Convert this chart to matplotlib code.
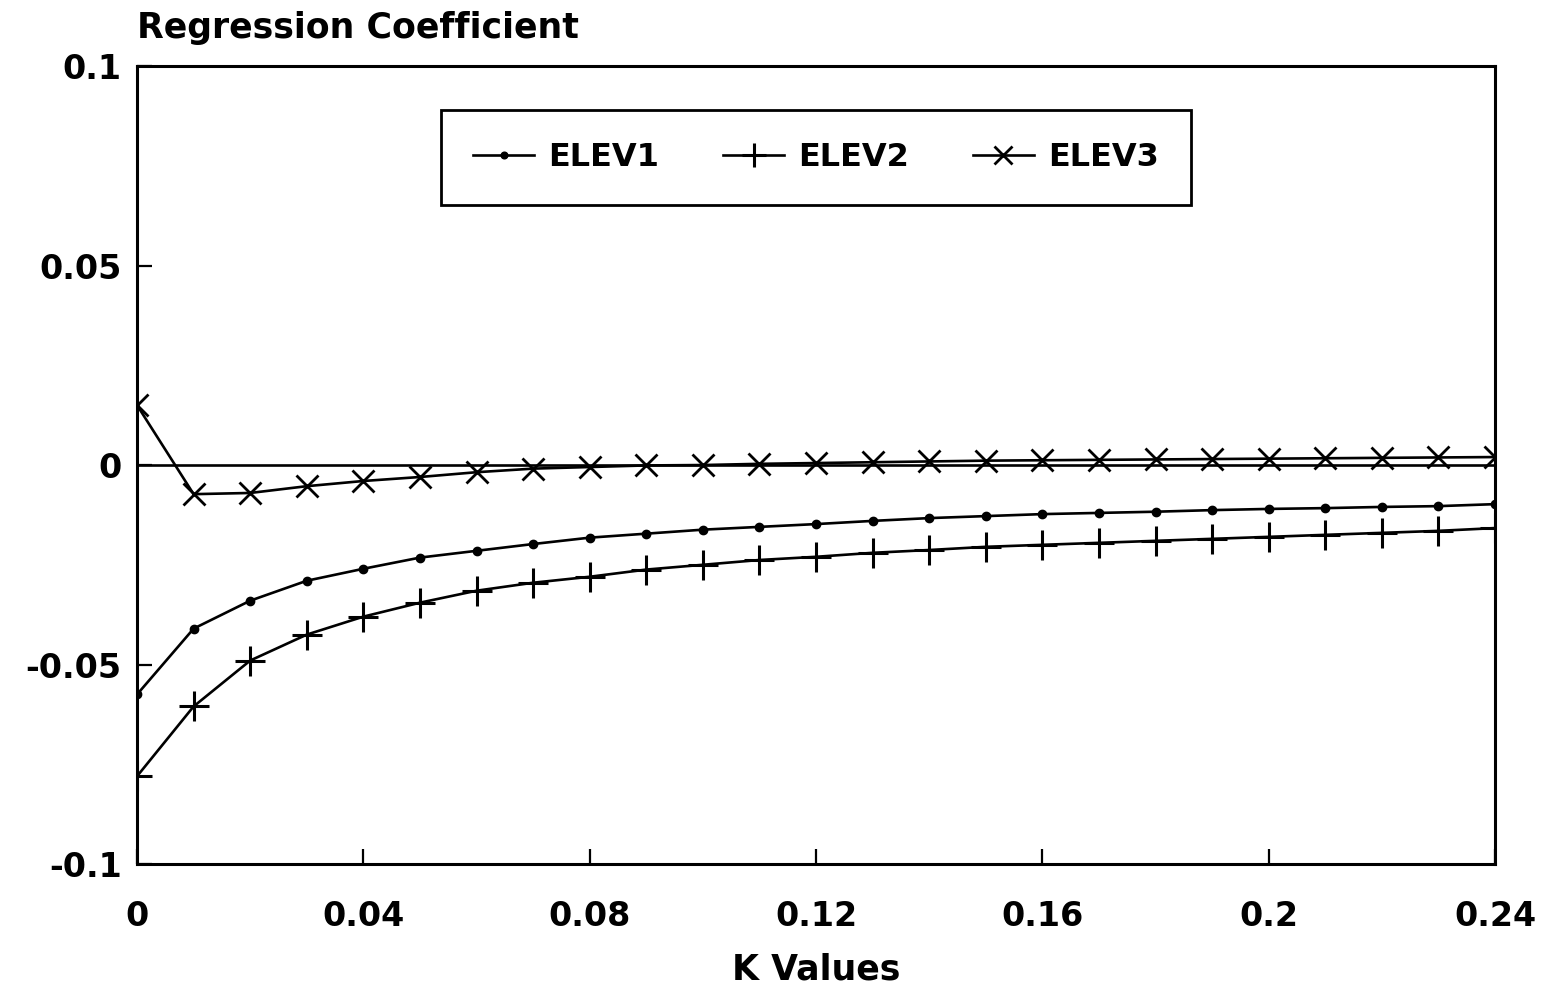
import matplotlib
matplotlib.use("Agg")
import matplotlib.pyplot as plt
import numpy as np

# Valores K (eje x)
k_values = [0.00, 0.01, 0.02, 0.03, 0.04, 0.05, 0.06, 0.07, 0.08, 0.09, 0.10, 0.11, 0.12,
            0.13, 0.14, 0.15, 0.16, 0.17, 0.18, 0.19, 0.20, 0.21, 0.22, 0.23, 0.24]

elev1 = [-0.0575, -0.0410, -0.0340, -0.0290, -0.0260, -0.0232, -0.0215, -0.0198, -0.0182,
         -0.0172, -0.0162, -0.0155, -0.0148, -0.0140, -0.0133, -0.0128, -0.0123, -0.0120,
         -0.0117, -0.0113, -0.0110, -0.0108, -0.0105, -0.0103, -0.0098]

elev2 = [-0.0780, -0.0605, -0.0490, -0.0425, -0.0380, -0.0345, -0.0315, -0.0295, -0.0280,
         -0.0262, -0.0250, -0.0238, -0.0230, -0.0220, -0.0213, -0.0205, -0.0200, -0.0195,
         -0.0190, -0.0185, -0.0180, -0.0175, -0.0170, -0.0165, -0.0158]

elev3 = [0.0150, -0.0073, -0.0070, -0.0053, -0.0040, -0.0030, -0.0018, -0.0009, -0.0005,
         -0.0001, 0.0000, 0.0003, 0.0005, 0.0007, 0.0009, 0.0011, 0.0012, 0.0013, 0.0014,
         0.0015, 0.0016, 0.0017, 0.0018, 0.0019, 0.0020]

x_ticks = [0, 0.04, 0.08, 0.12, 0.16, 0.2, 0.24]
x_tick_labels = ["0", "0.04", "0.08", "0.12", "0.16", "0.2", "0.24"]
y_ticks = [-0.1, -0.05, 0, 0.05, 0.1]
y_tick_labels = ["-0.1", "-0.05", "0", "0.05", "0.1"]

plt.rcParams["font.family"] = ["DejaVu Sans"]
plt.rcParams["font.weight"] = "bold"

fig = plt.figure(figsize=(15.52, 9.96), dpi=100)
ax = fig.add_axes([0.0883, 0.1325, 0.875, 0.8012])

# Linea de cero
ax.plot([k_values[0], k_values[-1]], [0, 0], color="black", lw=1.9)

ax.plot(k_values, elev1, color="black", lw=1.9, marker="o", markersize=6, label="ELEV1")
ax.plot(k_values, elev2, color="black", lw=1.9, marker="+", markersize=22,
        markeredgewidth=2.2, label="ELEV2")
ax.plot(k_values, elev3, color="black", lw=1.9, marker="x", markersize=16,
        markeredgewidth=2.0, label="ELEV3")

ax.set_xlim(0, 0.24)
ax.set_ylim(-0.1, 0.1)
ax.set_xticks(x_ticks)
ax.set_xticklabels(x_tick_labels)
ax.set_yticks(y_ticks)
ax.set_yticklabels(y_tick_labels)
ax.tick_params(direction="in", length=11, width=1.6, labelsize=24)
ax.tick_params(axis="x", pad=26)
ax.tick_params(axis="y", pad=11)
for s in ax.spines.values():
    s.set_linewidth(2.2)

ax.set_xlabel("K Values", fontsize=25, fontweight="bold", labelpad=14)
fig.text(0.0883, 0.972, "Regression Coefficient", fontsize=25, fontweight="bold",
         ha="left", va="center")

leg = ax.legend(loc="upper center", bbox_to_anchor=(0.5, 0.945), ncol=3, fontsize=23,
                frameon=True, fancybox=False, edgecolor="black", framealpha=1,
                borderaxespad=0, handlelength=1.9, columnspacing=2.0, borderpad=1.0,
                handletextpad=0.45, markerscale=0.8)
leg.get_frame().set_linewidth(2)
for t in leg.get_texts():
    t.set_fontweight("bold")

fig.savefig("out.png", dpi=100)
